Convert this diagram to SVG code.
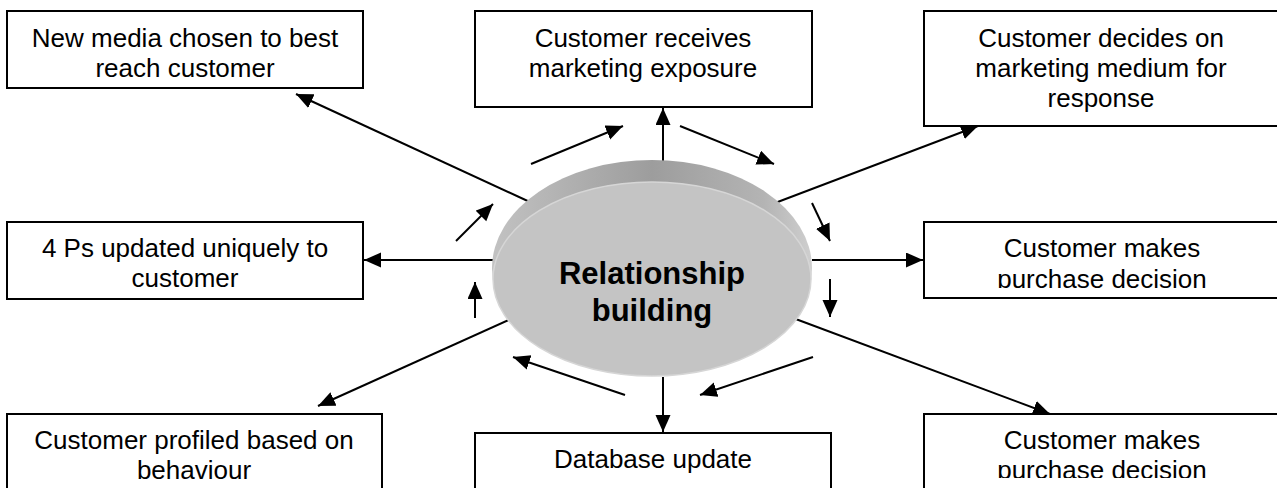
<svg xmlns="http://www.w3.org/2000/svg" width="1277" height="488" viewBox="0 0 1277 488">
<style>
.box{fill:#fff;stroke:#000;stroke-width:2}
.t{font-family:"Liberation Sans",Arial,sans-serif;font-size:26px;fill:#000;text-anchor:middle}
.tb{font-family:"Liberation Sans",Arial,sans-serif;font-size:31px;font-weight:bold;fill:#000;text-anchor:middle}
.c{stroke:#000;stroke-width:2;fill:none;marker-end:url(#ah)}
</style>
<defs>
<marker id="ah" markerUnits="userSpaceOnUse" markerWidth="19" markerHeight="16" refX="17" refY="7.5" orient="auto">
<path d="M0,0 L17,7.5 L0,15 Z" fill="#000"/>
</marker>
<linearGradient id="rim" x1="0" y1="0" x2="1" y2="0">
<stop offset="0" stop-color="#c2c2c2"/>
<stop offset="0.5" stop-color="#9d9d9d"/>
<stop offset="0.85" stop-color="#b4b4b4"/>
<stop offset="1" stop-color="#cfcfcf"/>
</linearGradient>
<clipPath id="clip6"><rect x="924" y="222" width="360" height="66"/></clipPath>
<clipPath id="clip9"><rect x="924" y="414" width="360" height="64"/></clipPath>
</defs>

<g id="connectors">
<line class="c" x1="532" y1="203" x2="296" y2="94"/>
<line class="c" x1="663" y1="164" x2="663" y2="108"/>
<line class="c" x1="775" y1="203" x2="978" y2="126"/>
<line class="c" x1="494" y1="260" x2="364" y2="260"/>
<line class="c" x1="812" y1="260" x2="923" y2="260"/>
<line class="c" x1="513" y1="318" x2="318" y2="406"/>
<line class="c" x1="793" y1="318" x2="1050" y2="414"/>
<line class="c" x1="663" y1="377" x2="663" y2="432"/>
<line class="c" x1="531" y1="164" x2="623" y2="126"/>
<line class="c" x1="680" y1="126" x2="774" y2="164"/>
<line class="c" x1="812" y1="203" x2="830" y2="241"/>
<line class="c" x1="830" y1="279" x2="830" y2="317"/>
<line class="c" x1="813" y1="357" x2="700" y2="395"/>
<line class="c" x1="625" y1="395" x2="513" y2="357"/>
<line class="c" x1="475" y1="318" x2="475" y2="282"/>
<line class="c" x1="456" y1="241" x2="493" y2="204"/>
</g>

<g id="hub">
<ellipse cx="652" cy="268" rx="160" ry="108" fill="url(#rim)"/>
<ellipse cx="652" cy="279" rx="159" ry="97" fill="#c4c4c4" stroke="#d6d6d6" stroke-width="1.5"/>
<text class="tb" x="652" y="284">Relationship</text>
<text class="tb" x="652" y="321">building</text>
</g>

<g id="n-newmedia">
<rect class="box" x="7" y="11" width="356" height="77"/>
<text class="t" x="185" y="47">New media chosen to best</text>
<text class="t" x="185" y="77">reach customer</text>
</g>

<g id="n-exposure">
<rect class="box" x="475" y="11" width="337" height="96"/>
<text class="t" x="643" y="47">Customer receives</text>
<text class="t" x="643" y="77">marketing exposure</text>
</g>

<g id="n-medium">
<rect class="box" x="924" y="11" width="356" height="115"/>
<text class="t" x="1101" y="47">Customer decides on</text>
<text class="t" x="1101" y="77">marketing medium for</text>
<text class="t" x="1101" y="107">response</text>
</g>

<g id="n-4ps">
<rect class="box" x="7" y="222" width="356" height="77"/>
<text class="t" x="185" y="257">4 Ps updated uniquely to</text>
<text class="t" x="185" y="287">customer</text>
</g>

<g id="n-purchase1">
<rect class="box" x="924" y="222" width="356" height="76"/>
<text class="t" x="1102" y="257">Customer makes</text>
<text class="t" x="1102" y="288" clip-path="url(#clip6)">purchase decision</text>
</g>

<g id="n-profiled">
<rect class="box" x="7" y="414" width="375" height="90"/>
<text class="t" x="194" y="449">Customer profiled based on</text>
<text class="t" x="194" y="479">behaviour</text>
</g>

<g id="n-database">
<rect class="box" x="475" y="433" width="356" height="70"/>
<text class="t" x="653" y="468">Database update</text>
</g>

<g id="n-purchase2">
<rect class="box" x="924" y="414" width="356" height="90"/>
<text class="t" x="1102" y="449">Customer makes</text>
<text class="t" x="1102" y="479" clip-path="url(#clip9)">purchase decision</text>
</g>
</svg>
